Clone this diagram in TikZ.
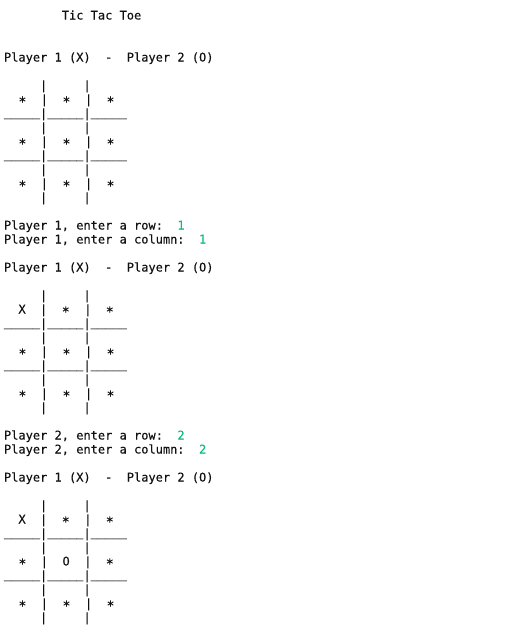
\documentclass[tikz,border=0pt]{standalone}
\usepackage{fontspec}
\newfontfamily\termfont[FakeBold=0.2]{DejaVu Sans Mono}
\definecolor{termfg}{HTML}{111111}
\definecolor{termgreen}{HTML}{0DBC79}
\newcommand{\tast}{\raisebox{-2.8pt}{\scalebox{1.1}{*}}}
\newcommand{\tus}{\raisebox{1.3pt}{\_\_\_\_\_}}
\newcommand{\gn}[1]{\textcolor{termgreen}{#1}}
\begin{document}
\begin{tikzpicture}[x=1pt,y=-1pt,
  termline/.style={anchor=base west,inner sep=0pt,outer sep=0pt,
    font=\fontsize{12pt}{14pt}\termfont\frenchspacing,text=termfg}]
\fill[white] (0,0) rectangle (521,635);
\useasboundingbox (0,0) rectangle (521,635);
\def\lx{4}
\def\by#1{19.5+14*#1}
% block 1
\node[termline] (l0)  at (\lx,{\by{0}})  {~~~~~~~~Tic Tac Toe};
\node[termline] (l3)  at (\lx,{\by{3}})  {Player 1 (X)~~-~~Player 2 (O)};
\node[termline] (l5)  at (\lx,{\by{5}})  {~~~~~|~~~~~|};
\node[termline] (l6)  at (\lx,{\by{6}})  {~~\tast~~|~~\tast~~|~~\tast};
\node[termline] (l7)  at (\lx,{\by{7}})  {\tus|\tus|\tus};
\node[termline] (l8)  at (\lx,{\by{8}})  {~~~~~|~~~~~|};
\node[termline] (l9)  at (\lx,{\by{9}})  {~~\tast~~|~~\tast~~|~~\tast};
\node[termline] (l10) at (\lx,{\by{10}}) {\tus|\tus|\tus};
\node[termline] (l11) at (\lx,{\by{11}}) {~~~~~|~~~~~|};
\node[termline] (l12) at (\lx,{\by{12}}) {~~\tast~~|~~\tast~~|~~\tast};
\node[termline] (l13) at (\lx,{\by{13}}) {~~~~~|~~~~~|};
\node[termline] (l15) at (\lx,{\by{15}}) {Player 1, enter a row:~~\gn{1}};
\node[termline] (l16) at (\lx,{\by{16}}) {Player 1, enter a column:~~\gn{1}};
% block 2
\node[termline] (l18) at (\lx,{\by{18}}) {Player 1 (X)~~-~~Player 2 (O)};
\node[termline] (l20) at (\lx,{\by{20}}) {~~~~~|~~~~~|};
\node[termline] (l21) at (\lx,{\by{21}}) {~~X~~|~~\tast~~|~~\tast};
\node[termline] (l22) at (\lx,{\by{22}}) {\tus|\tus|\tus};
\node[termline] (l23) at (\lx,{\by{23}}) {~~~~~|~~~~~|};
\node[termline] (l24) at (\lx,{\by{24}}) {~~\tast~~|~~\tast~~|~~\tast};
\node[termline] (l25) at (\lx,{\by{25}}) {\tus|\tus|\tus};
\node[termline] (l26) at (\lx,{\by{26}}) {~~~~~|~~~~~|};
\node[termline] (l27) at (\lx,{\by{27}}) {~~\tast~~|~~\tast~~|~~\tast};
\node[termline] (l28) at (\lx,{\by{28}}) {~~~~~|~~~~~|};
\node[termline] (l30) at (\lx,{\by{30}}) {Player 2, enter a row:~~\gn{2}};
\node[termline] (l31) at (\lx,{\by{31}}) {Player 2, enter a column:~~\gn{2}};
% block 3
\node[termline] (l33) at (\lx,{\by{33}}) {Player 1 (X)~~-~~Player 2 (O)};
\node[termline] (l35) at (\lx,{\by{35}}) {~~~~~|~~~~~|};
\node[termline] (l36) at (\lx,{\by{36}}) {~~X~~|~~\tast~~|~~\tast};
\node[termline] (l37) at (\lx,{\by{37}}) {\tus|\tus|\tus};
\node[termline] (l38) at (\lx,{\by{38}}) {~~~~~|~~~~~|};
\node[termline] (l39) at (\lx,{\by{39}}) {~~\tast~~|~~O~~|~~\tast};
\node[termline] (l40) at (\lx,{\by{40}}) {\tus|\tus|\tus};
\node[termline] (l41) at (\lx,{\by{41}}) {~~~~~|~~~~~|};
\node[termline] (l42) at (\lx,{\by{42}}) {~~\tast~~|~~\tast~~|~~\tast};
\node[termline] (l43) at (\lx,{\by{43}}) {~~~~~|~~~~~|};
\end{tikzpicture}
\end{document}
